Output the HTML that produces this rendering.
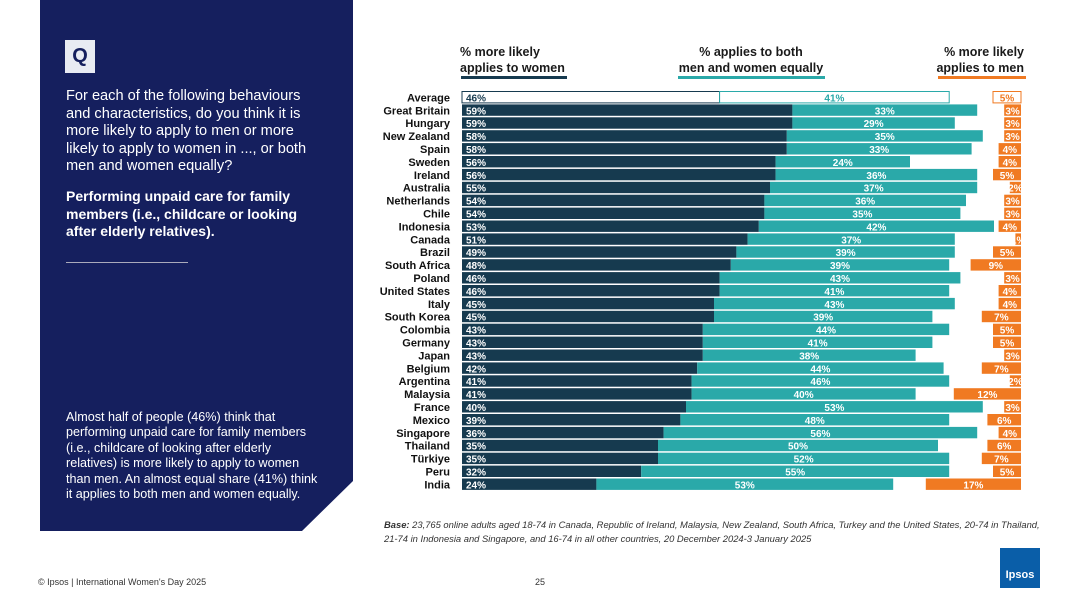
<!DOCTYPE html>
<html><head><meta charset="utf-8"><style>
body{margin:0;width:1080px;height:608px;background:#fff;position:relative;overflow:hidden;font-family:"Liberation Sans",sans-serif}
.panel{position:absolute;left:40px;top:0;width:313px;height:531px;background:#151f5e;clip-path:polygon(0 0,100% 0,100% 481px,262px 100%,0 100%)}
.q{position:absolute;left:65px;top:40px;width:30px;height:33px;background:#e8ebf3;color:#151f5e;font-weight:bold;font-size:20px;text-align:center;line-height:33px}
.t{position:absolute;left:66px;color:#fff;font-size:13.4px;line-height:17.6px;white-space:nowrap}
.hdr{position:absolute;top:44px;font-weight:bold;font-size:12.5px;line-height:16px;color:#1a1a1a}
.ul{position:absolute;top:76px;height:3px}
.foot{position:absolute;font-size:9px;color:#333}
</style></head><body>
<div class="panel"></div>
<div class="q">Q</div>
<div class="t" style="top:88px;font-size:14.6px">For each of the following behaviours<br>and characteristics, do you think it is<br>more likely to apply to men or more<br>likely to apply to women in ..., or both<br>men and women equally?</div>
<div class="t" style="top:188px;font-weight:bold;font-size:14px">Performing unpaid care for family<br>members (i.e., childcare or looking<br>after elderly relatives).</div>
<div style="position:absolute;left:66px;top:262px;width:122px;height:1px;background:#aab"></div>
<div class="t" style="top:410px;font-size:12.6px;line-height:15.4px">Almost half of people (46%) think that<br>performing unpaid care for family members<br>(i.e., childcare of looking after elderly<br>relatives) is more likely to apply to women<br>than men. An almost equal share (41%) think<br>it applies to both men and women equally.</div>

<div class="hdr" style="left:460px">% more likely<br>applies to women</div>
<div class="ul" style="left:461px;width:106px;background:#163a4f"></div>
<div class="hdr" style="left:665px;text-align:center;width:172px">% applies to both<br>men and women equally</div>
<div class="ul" style="left:678px;width:147px;background:#2aa9a9"></div>
<div class="hdr" style="left:930px;text-align:right;width:94px">% more likely<br>applies to men</div>
<div class="ul" style="left:938px;width:88px;background:#f07a22"></div>

<svg id="chart" width="1080" height="608" style="position:absolute;left:0;top:0"></svg>

<div class="foot" style="left:384px;top:518px;line-height:14px;font-size:9.4px;white-space:nowrap"><b><i>Base:</i></b> <i>23,765 online adults aged 18-74 in Canada, Republic of Ireland, Malaysia, New Zealand, South Africa, Turkey and the United States, 20-74 in Thailand,<br>21-74 in Indonesia and Singapore, and 16-74 in all other countries, 20 December 2024-3 January 2025</i></div>
<div class="foot" style="left:38px;top:577px">© Ipsos | International Women's Day 2025</div>
<div class="foot" style="left:535px;top:577px">25</div>
<div style="position:absolute;left:1000px;top:548px;width:40px;height:40px;background:#0a5ea8;color:#fff;font-weight:bold;font-size:11px;text-align:center;line-height:54px">Ipsos</div>

<script>
const countries=["Average","Great Britain","Hungary","New Zealand","Spain","Sweden","Ireland","Australia","Netherlands","Chile","Indonesia","Canada","Brazil","South Africa","Poland","United States","Italy","South Korea","Colombia","Germany","Japan","Belgium","Argentina","Malaysia","France","Mexico","Singapore","Thailand","Türkiye","Peru","India"];
const women=[46,59,59,58,58,56,56,55,54,54,53,51,49,48,46,46,45,45,43,43,43,42,41,41,40,39,36,35,35,32,24];
const both=[41,33,29,35,33,24,36,37,36,35,42,37,39,39,43,41,43,39,44,41,38,44,46,40,53,48,56,50,52,55,53];
const men=[5,3,3,3,4,4,5,2,3,3,4,1,5,9,3,4,4,7,5,5,3,7,2,12,3,6,4,6,7,5,17];
const svg=document.getElementById('chart');const NS='http://www.w3.org/2000/svg';
const x0=462,k=5.6,menRight=1021,y0=91.5,step=12.9,bh=11.4;
const xs=v=>v*k;const ys=i=>y0+i*step;
function mk(tag,attrs){const e=document.createElementNS(NS,tag);for(const a in attrs)e.setAttribute(a,attrs[a]);svg.appendChild(e);return e;}
countries.forEach((c,i)=>{
 const y=ys(i),avg=i===0;
 const lab=mk('text',{x:450,y:y+bh-1.5,'text-anchor':'end','font-size':11,'font-weight':'bold',fill:'#111','font-family':'Liberation Sans Narrow, Liberation Sans, sans-serif'});lab.textContent=c;
 
 
 const w=xs(women[i]),b=xs(both[i]),m=xs(men[i]);
 const r1=mk('rect',{x:x0,y:y,width:w,height:bh,fill:avg?'#fff':'#163a4f',stroke:avg?'#163a4f':'none','stroke-width':1});
 
 
 const r2=mk('rect',{x:x0+w,y:y,width:b,height:bh,fill:avg?'#fff':'#2aa9a9',stroke:avg?'#2aa9a9':'none','stroke-width':1});
 
 
 const r3=mk('rect',{x:menRight-m,y:y,width:m,height:bh,fill:avg?'#fff':'#f07a22',stroke:avg?'#f07a22':'none','stroke-width':1});
 
 
 const t1=mk('text',{x:x0+4,y:y+bh-1.5,'font-size':10,'font-weight':'bold',fill:avg?'#163a4f':'#fff'});t1.textContent=women[i]+'%';
 
 
 const t2=mk('text',{x:x0+w+b/2,y:y+bh-1.5,'text-anchor':'middle','font-size':10,'font-weight':'bold',fill:avg?'#2aa9a9':'#fff'});t2.textContent=both[i]+'%';
 
 
 const t3=mk('text',{x:menRight-m/2,y:y+bh-1.5,'text-anchor':'middle','font-size':10,'font-weight':'bold',fill:avg?'#f07a22':'#fff'});t3.textContent=men[i]+'%';
 
 
});
</script>
</body></html>
